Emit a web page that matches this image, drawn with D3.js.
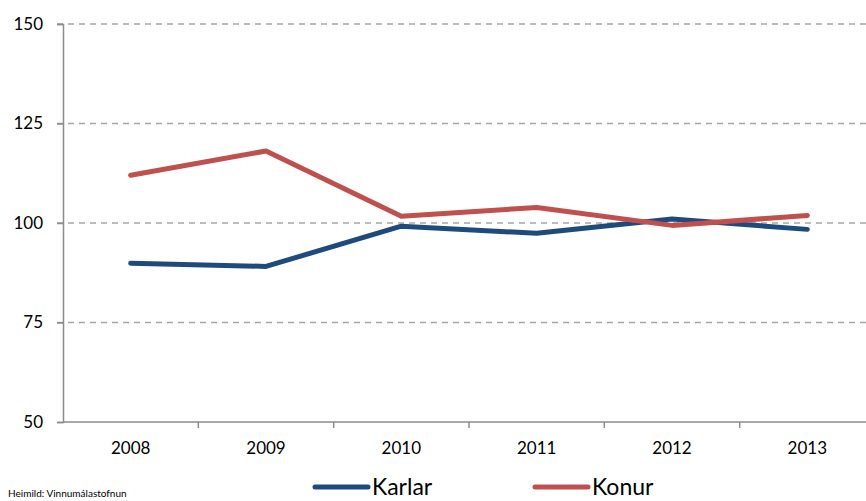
<!DOCTYPE html>
<html>
<head>
<meta charset="utf-8">
<script src="https://cdnjs.cloudflare.com/ajax/libs/d3/7.8.5/d3.min.js"></script>
<style>
  html, body { margin: 0; padding: 0; background: #fff; }
  svg { display: block; font-family: Lato, "Open Sans", sans-serif; }
</style>
</head>
<body>
<svg id="chart" width="866" height="501"></svg>
<script>
// Index values per year
const years = ["2008", "2009", "2010", "2011", "2012", "2013"];
const karlar = [89.9, 89.1, 99.2, 97.4, 101.0, 98.4];
const konur = [112.0, 118.1, 101.7, 103.9, 99.4, 101.9];
const yTicks = [50, 75, 100, 125, 150];
const seriesNames = ["Karlar", "Konur"];
const seriesColors = ["#1f4a7e", "#c0504d"];

const svg = d3.select("#chart");
const margin = { left: 63, right: -9, top: 24, bottom: 79 };
const W = 866, H = 501;

const x = d3.scaleBand().domain(years)
  .range([margin.left, W - margin.right]).padding(0);
const y = d3.scaleLinear().domain([50, 150])
  .range([H - margin.bottom, margin.top]);

// Dashed horizontal gridlines
svg.append("g")
  .selectAll("line")
  .data(yTicks.filter(d => d !== 50))
  .join("line")
  .attr("x1", margin.left - 6)
  .attr("x2", W)
  .attr("y1", d => y(d))
  .attr("y2", d => y(d))
  .attr("stroke", "#a6a6a6")
  .attr("stroke-width", 1.5)
  .attr("stroke-dasharray", "6,5");

// Y axis
const yAxis = svg.append("g")
  .attr("transform", `translate(${margin.left},0)`)
  .call(d3.axisLeft(y).tickValues(yTicks).tickSize(6).tickPadding(14));
yAxis.select(".domain").attr("stroke", "#8c8c8c").attr("stroke-width", 1.5);
yAxis.selectAll(".tick line").attr("stroke", "#8c8c8c").attr("stroke-width", 1.5);
yAxis.selectAll("text").attr("font-size", 17).attr("fill", "#000")
  .attr("font-family", "Lato, sans-serif");

// X axis with ticks between categories
const xAxisG = svg.append("g")
  .attr("transform", `translate(0,${y(50)})`);
xAxisG.append("line")
  .attr("x1", margin.left).attr("x2", W)
  .attr("stroke", "#8c8c8c").attr("stroke-width", 1.5);
xAxisG.selectAll(".sep")
  .data(years.slice(1))
  .join("line")
  .attr("class", "sep")
  .attr("x1", d => x(d)).attr("x2", d => x(d))
  .attr("y1", 0).attr("y2", 6)
  .attr("stroke", "#8c8c8c").attr("stroke-width", 1.5);
xAxisG.selectAll("text")
  .data(years)
  .join("text")
  .attr("x", d => x(d) + x.bandwidth() / 2)
  .attr("y", 32)
  .attr("text-anchor", "middle")
  .attr("font-size", 17)
  .attr("fill", "#000")
  .text(d => d);

// Lines
const line = d3.line()
  .x((d, i) => x(years[i]) + x.bandwidth() / 2)
  .y(d => y(d));

[karlar, konur].forEach((vals, i) => {
  svg.append("path")
    .datum(vals)
    .attr("d", line)
    .attr("fill", "none")
    .attr("stroke", seriesColors[i])
    .attr("stroke-width", 5)
    .attr("stroke-linecap", "round")
    .attr("stroke-linejoin", "round");
});

// Legend
const legendX = [313, 533];
seriesNames.forEach((name, i) => {
  const g = svg.append("g").attr("transform", `translate(${legendX[i]},487)`);
  g.append("line")
    .attr("x1", 2).attr("x2", 55)
    .attr("stroke", seriesColors[i])
    .attr("stroke-width", 5)
    .attr("stroke-linecap", "round");
  g.append("text")
    .attr("x", 59).attr("y", 8)
    .attr("font-size", 23)
    .attr("fill", "#000")
    .text(name);
});

// Source note
svg.append("text")
  .attr("x", 8).attr("y", 497)
  .attr("font-size", 10)
  .attr("fill", "#000")
  .text("Heimild: Vinnumálastofnun");
</script>
</body>
</html>
